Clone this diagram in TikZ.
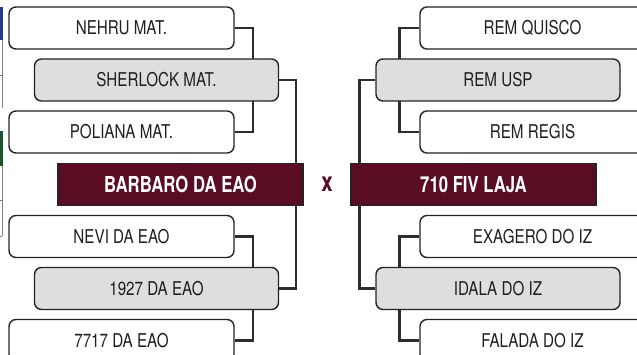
\documentclass[tikz,border=0pt]{standalone}
\usepackage{fontspec}
\usetikzlibrary{backgrounds}
\newfontfamily\condreg[FakeStretch=0.8]{TeX Gyre Heros}
\newfontfamily\condbold[FakeStretch=0.76]{TeX Gyre Heros Bold}
\definecolor{maroon}{RGB}{90,12,34}
\definecolor{boxgray}{RGB}{221,222,224}
\definecolor{edge}{RGB}{35,35,35}
\definecolor{conncol}{RGB}{45,45,45}
\definecolor{leftblue}{RGB}{30,60,140}
\definecolor{leftgreen}{RGB}{25,85,45}
\begin{document}
\begin{tikzpicture}[x=1pt,y=-1pt,
  team/.style={draw=edge,line width=1.4pt,rounded corners=7pt,fill=white,
    minimum width=225pt,minimum height=42pt,inner sep=0pt,
    font=\condreg\fontsize{19}{21}\selectfont,text=black!88},
  winner/.style={team,fill=boxgray,minimum width=244pt},
  finalist/.style={draw=edge,line width=1.2pt,fill=maroon,
    minimum width=245pt,minimum height=42pt,inner sep=0pt,
    font=\condbold\fontsize{22}{24}\selectfont,text=white},
  conn/.style={draw=conncol,line width=2.4pt}]
\useasboundingbox (0,0) rectangle (637,355);
\clip (0,0) rectangle (637,355);
% cropped strip at the left edge
\fill[leftblue] (0,7) rectangle (2.5,40);
\fill[leftgreen] (0,131) rectangle (2.5,166);
\draw[gray,line width=0.8pt] (2,40) -- (2,108);
\draw[gray,line width=0.8pt] (2,166) -- (2,236);
\draw[gray,line width=0.8pt] (0,75) -- (2,75);
\draw[gray,line width=0.8pt] (0,200) -- (2,200);
\draw[gray,line width=0.8pt] (0,236) -- (2,236);
% left bracket
\node[team]     (nehru)    at (121.5,28)  {NEHRU MAT.};
\node[winner]   (sherlock) at (156.5,80)  {SHERLOCK MAT.};
\node[team]     (poliana)  at (121.5,132) {POLIANA MAT.};
\node[finalist] (barbaro)  at (180.5,184.5) {BARBARO DA EAO};
\node[team]     (nevi)     at (121.5,236.5) {NEVI DA EAO};
\node[winner]   (eao)      at (156.5,288.5) {1927 DA EAO};
\node[team]     (sete)     at (121.5,340.5) {7717 DA EAO};
% right bracket
\node[team]     (quisco)   at (532.5,28)  {REM QUISCO};
\node[winner]   (usp)      at (498,80)    {REM USP};
\node[team]     (regis)    at (532.5,132) {REM REGIS};
\node[finalist] (laja)     at (473.5,184.5) {710 FIV LAJA};
\node[team]     (exagero)  at (532.5,236.5) {EXAGERO DO IZ};
\node[winner]   (idala)    at (498,288.5) {IDALA DO IZ};
\node[team]     (falada)   at (532.5,340.5) {FALADA DO IZ};
% versus
\node[text=maroon,font=\condbold\fontsize{27}{29}\selectfont,inner sep=0pt] (vs) at (327,184) {x};
\begin{pgfonlayer}{background}
\draw[conn] (nehru.east) -- ++(18,0) |- (poliana.east);
\draw[conn] (nevi.east) -- ++(18,0) |- (sete.east);
\draw[conn] (sherlock.east) -- ++(17,0) |- (eao.east);
\draw[conn] (quisco.west) -- ++(-20,0) |- (regis.west);
\draw[conn] (exagero.west) -- ++(-20,0) |- (falada.west);
\draw[conn] (usp.west) -- ++(-16,0) |- (idala.west);
\end{pgfonlayer}
\end{tikzpicture}
\end{document}
